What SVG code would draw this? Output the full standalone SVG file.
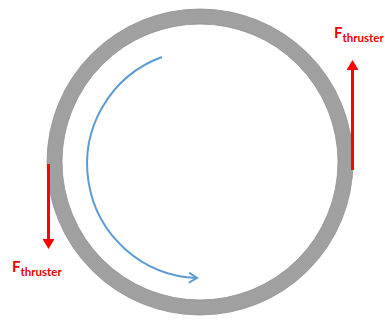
<svg xmlns="http://www.w3.org/2000/svg" width="385" height="320" viewBox="0 0 385 320">
<style>
.lbl{font-family:Lato,"Open Sans","Liberation Sans",sans-serif;font-weight:bold;fill:#f00000}
.big{font-size:15px}
.sub{font-size:11.5px}
.force{stroke:#ff0000;stroke-width:3;fill:none}
</style>
<defs>
<marker id="redHead" markerWidth="4" markerHeight="4" refX="0" refY="2" orient="auto" markerUnits="strokeWidth">
<path d="M0,0 L3.3,2 L0,4 Z" fill="#ff0000"/>
</marker>
<marker id="blueHead" markerWidth="12" markerHeight="12" refX="9" refY="6" orient="auto" markerUnits="userSpaceOnUse">
<path d="M1,1 L9,6 L1,11" fill="none" stroke="#5b9bd5" stroke-width="2"/>
</marker>
</defs>
<g id="ring">
<circle cx="200" cy="162" r="145.5" fill="none" stroke="#a0a0a0" stroke-width="15"/>
<circle cx="200" cy="162" r="153" fill="none" stroke="#909090" stroke-width="0.8"/>
<circle cx="200" cy="162" r="138" fill="none" stroke="#909090" stroke-width="0.8"/>
</g>
<g id="connectors">
<path d="M162,57 A114,114 0 0 0 197,278" fill="none" stroke="#5b9bd5" stroke-width="2" marker-end="url(#blueHead)"/>
<line class="force" x1="48.5" y1="164" x2="48.5" y2="239" marker-end="url(#redHead)"/>
<line class="force" x1="352.5" y1="170" x2="352.5" y2="70" marker-end="url(#redHead)"/>
</g>
<g id="label-left">
<text class="lbl" x="12" y="272"><tspan class="big">F</tspan><tspan class="sub" dy="4">thruster</tspan></text>
</g>
<g id="label-right">
<text class="lbl" x="334" y="38"><tspan class="big">F</tspan><tspan class="sub" dy="4">thruster</tspan></text>
</g>
</svg>
